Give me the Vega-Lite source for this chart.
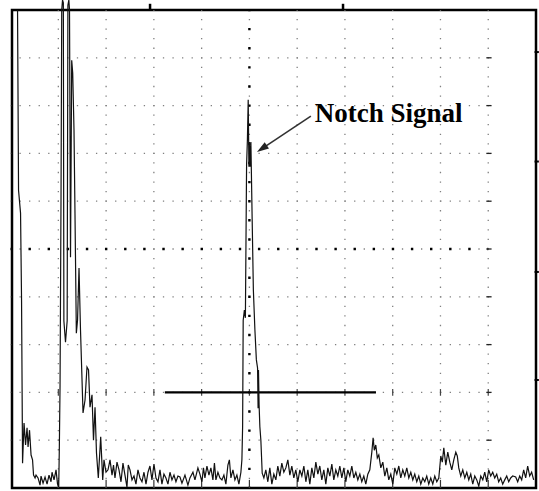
{
  "$schema": "https://vega.github.io/schema/vega-lite/v6.json",
  "width": 524,
  "height": 478,
  "autosize": {"type": "none"},
  "padding": {"left": 12, "top": 10, "right": 3, "bottom": 3},
  "background": "white",
  "config": {"view": {"stroke": "#000", "strokeWidth": 2.5}},
  "datasets": {
    "vgrid": [{"g": 10}, {"g": 20}, {"g": 30}, {"g": 40}, {"g": 50}, {"g": 60}, {"g": 70}, {"g": 80}, {"g": 90}, {"g": 100}],
    "hgrid": [{"g": 10}, {"g": 20}, {"g": 30}, {"g": 40}, {"g": 50}, {"g": 60}, {"g": 70}, {"g": 80}, {"g": 90}],
    "center": [{"c": 50}],
    "gate": [{"start": 32.3, "end": 76.5, "level": 20}],
    "label": [{"text": "Notch Signal", "x": 63.7, "y": 76.6}],
    "arrow": [{"x1": 62.87, "y1": 77.8, "x2": 52.8, "y2": 71.1}],
    "topTicks": [{"t": 29.2}, {"t": 69.6}],
    "rightTicks": [{"t": 91.2}, {"t": 68.3}, {"t": 45.2}, {"t": 22.6}],
    "signal": [
      {"t": 1.46, "a": 100.0}, {"t": 1.67, "a": 62.3}, {"t": 2.09, "a": 57.5}, {"t": 2.30, "a": 39.3},
      {"t": 2.51, "a": 5.2}, {"t": 2.82, "a": 13.6}, {"t": 3.14, "a": 9.0}, {"t": 3.45, "a": 12.6},
      {"t": 3.66, "a": 8.6}, {"t": 3.97, "a": 12.1}, {"t": 4.29, "a": 6.9}, {"t": 4.60, "a": 5.9},
      {"t": 4.81, "a": 2.7}, {"t": 5.13, "a": 2.1}, {"t": 5.33, "a": 2.7}, {"t": 5.75, "a": 2.1},
      {"t": 6.17, "a": 0.6}, {"t": 6.38, "a": 2.5}, {"t": 6.80, "a": 1.0}, {"t": 7.22, "a": 2.3},
      {"t": 7.64, "a": 0.8}, {"t": 8.05, "a": 2.7}, {"t": 8.47, "a": 1.3}, {"t": 8.68, "a": 3.3},
      {"t": 9.10, "a": 1.7}, {"t": 9.52, "a": 3.8}, {"t": 9.83, "a": 0.8}, {"t": 10.08, "a": 0.2},
      {"t": 10.21, "a": 8.4}, {"t": 10.36, "a": 21.5}, {"t": 10.56, "a": 60.2}, {"t": 10.71, "a": 100.0},
      {"t": 10.88, "a": 102.1}, {"t": 11.05, "a": 101.5}, {"t": 11.16, "a": 35.0}, {"t": 11.5, "a": 30.5},
      {"t": 11.85, "a": 35.0}, {"t": 12.0, "a": 101.0}, {"t": 12.2, "a": 102.1}, {"t": 12.34, "a": 100.0},
      {"t": 12.55, "a": 48.3},
      {"t": 12.80, "a": 89.5}, {"t": 13.01, "a": 86.8}, {"t": 13.28, "a": 74.9}, {"t": 13.49, "a": 57.1},
      {"t": 13.77, "a": 32.4}, {"t": 14.02, "a": 35.1}, {"t": 14.33, "a": 46.0}, {"t": 14.64, "a": 33.1},
      {"t": 15.17, "a": 15.7}, {"t": 15.59, "a": 18.4}, {"t": 16.00, "a": 25.3}, {"t": 16.32, "a": 24.7},
      {"t": 16.63, "a": 16.9}, {"t": 17.05, "a": 19.5}, {"t": 17.36, "a": 10.0}, {"t": 17.68, "a": 16.9},
      {"t": 17.99, "a": 7.3}, {"t": 18.37, "a": 2.1}, {"t": 18.87, "a": 10.7}, {"t": 19.29, "a": 1.7},
      {"t": 19.56, "a": 5.9}, {"t": 19.98, "a": 3.3}, {"t": 20.40, "a": 3.8}, {"t": 20.82, "a": 5.9},
      {"t": 21.24, "a": 2.7}, {"t": 21.55, "a": 4.8}, {"t": 21.86, "a": 2.1}, {"t": 22.28, "a": 5.4},
      {"t": 22.70, "a": 3.8}, {"t": 23.12, "a": 1.3}, {"t": 23.53, "a": 5.2}, {"t": 23.95, "a": 2.7},
      {"t": 24.37, "a": 0.2}, {"t": 24.64, "a": 4.8}, {"t": 25.00, "a": 3.8}, {"t": 25.42, "a": 1.7},
      {"t": 25.84, "a": 2.5}, {"t": 26.25, "a": 0.8}, {"t": 26.67, "a": 3.8}, {"t": 27.09, "a": 2.1},
      {"t": 27.51, "a": 1.3}, {"t": 27.93, "a": 3.3}, {"t": 28.35, "a": 0.8}, {"t": 28.77, "a": 3.3},
      {"t": 29.18, "a": 4.6}, {"t": 29.60, "a": 1.7}, {"t": 30.02, "a": 5.0}, {"t": 30.44, "a": 2.1},
      {"t": 30.86, "a": 1.3}, {"t": 31.28, "a": 3.8}, {"t": 31.69, "a": 0.8}, {"t": 32.11, "a": 2.9},
      {"t": 32.53, "a": 2.1}, {"t": 32.95, "a": 0.8}, {"t": 33.37, "a": 3.3}, {"t": 33.79, "a": 1.7},
      {"t": 34.21, "a": 2.7}, {"t": 34.62, "a": 1.3}, {"t": 35.04, "a": 2.5}, {"t": 35.46, "a": 2.3},
      {"t": 35.88, "a": 1.0}, {"t": 36.51, "a": 2.7}, {"t": 37.13, "a": 0.6}, {"t": 37.55, "a": 2.1},
      {"t": 38.18, "a": 3.3}, {"t": 38.60, "a": 1.7}, {"t": 39.22, "a": 4.2}, {"t": 39.64, "a": 2.9},
      {"t": 40.06, "a": 1.3}, {"t": 40.38, "a": 4.2}, {"t": 40.69, "a": 2.1}, {"t": 41.11, "a": 4.6},
      {"t": 41.53, "a": 2.7}, {"t": 41.94, "a": 4.2}, {"t": 42.36, "a": 1.7}, {"t": 42.68, "a": 5.2},
      {"t": 42.99, "a": 1.7}, {"t": 43.41, "a": 3.3}, {"t": 43.83, "a": 2.1}, {"t": 44.25, "a": 1.7},
      {"t": 44.66, "a": 2.7}, {"t": 45.08, "a": 0.8}, {"t": 45.50, "a": 4.8}, {"t": 45.81, "a": 5.9},
      {"t": 46.13, "a": 2.1}, {"t": 46.55, "a": 3.8}, {"t": 46.97, "a": 1.7}, {"t": 47.38, "a": 2.7},
      {"t": 47.80, "a": 0.8}, {"t": 48.22, "a": 3.3}, {"t": 48.43, "a": 5.9}, {"t": 48.58, "a": 12.8},
      {"t": 48.70, "a": 35.1}, {"t": 48.95, "a": 37.2}, {"t": 49.16, "a": 35.6}, {"t": 49.41, "a": 67.6},
      {"t": 49.58, "a": 72.8}, {"t": 49.75, "a": 81.2}, {"t": 49.90, "a": 67.2}, {"t": 50.00, "a": 72.4},
      {"t": 50.15, "a": 67.2}, {"t": 50.31, "a": 72.4}, {"t": 50.58, "a": 56.1}, {"t": 50.83, "a": 41.4},
      {"t": 51.15, "a": 33.1}, {"t": 51.46, "a": 26.8}, {"t": 51.71, "a": 25.1}, {"t": 51.82, "a": 16.7},
      {"t": 51.90, "a": 24.7}, {"t": 52.03, "a": 17.4}, {"t": 52.19, "a": 12.8}, {"t": 52.40, "a": 10.0},
      {"t": 52.68, "a": 3.1}, {"t": 53.03, "a": 2.1}, {"t": 53.44, "a": 3.8}, {"t": 53.86, "a": 1.3},
      {"t": 54.28, "a": 4.2}, {"t": 54.70, "a": 0.8}, {"t": 55.12, "a": 2.9}, {"t": 55.54, "a": 1.7},
      {"t": 55.95, "a": 4.6}, {"t": 56.37, "a": 2.5}, {"t": 56.79, "a": 5.2}, {"t": 57.21, "a": 3.3},
      {"t": 57.63, "a": 4.2}, {"t": 58.05, "a": 5.9}, {"t": 58.47, "a": 2.7}, {"t": 58.88, "a": 4.6},
      {"t": 59.30, "a": 2.1}, {"t": 59.72, "a": 3.8}, {"t": 60.14, "a": 1.3}, {"t": 60.56, "a": 3.8},
      {"t": 60.98, "a": 2.5}, {"t": 61.40, "a": 4.6}, {"t": 61.82, "a": 1.3}, {"t": 62.23, "a": 3.8},
      {"t": 62.65, "a": 0.8}, {"t": 63.07, "a": 4.2}, {"t": 63.49, "a": 2.1}, {"t": 63.91, "a": 5.4},
      {"t": 64.33, "a": 2.9}, {"t": 64.74, "a": 4.6}, {"t": 65.16, "a": 1.7}, {"t": 65.58, "a": 3.8},
      {"t": 66.00, "a": 0.8}, {"t": 66.42, "a": 4.2}, {"t": 66.84, "a": 2.5}, {"t": 67.26, "a": 5.0},
      {"t": 67.67, "a": 1.7}, {"t": 68.09, "a": 3.8}, {"t": 68.51, "a": 2.5}, {"t": 68.93, "a": 4.6},
      {"t": 69.35, "a": 2.1}, {"t": 69.77, "a": 4.2}, {"t": 70.18, "a": 1.3}, {"t": 70.60, "a": 3.8},
      {"t": 71.02, "a": 2.5}, {"t": 71.44, "a": 4.6}, {"t": 71.86, "a": 2.1}, {"t": 72.28, "a": 3.3},
      {"t": 72.70, "a": 1.7}, {"t": 73.12, "a": 2.9}, {"t": 73.53, "a": 1.3}, {"t": 73.95, "a": 2.5},
      {"t": 74.37, "a": 0.8}, {"t": 74.79, "a": 2.9}, {"t": 75.21, "a": 3.8}, {"t": 75.63, "a": 7.5},
      {"t": 75.90, "a": 10.5}, {"t": 76.15, "a": 7.9}, {"t": 76.46, "a": 9.0}, {"t": 76.78, "a": 6.3},
      {"t": 77.09, "a": 6.9}, {"t": 77.51, "a": 4.2}, {"t": 77.93, "a": 5.4}, {"t": 78.35, "a": 2.5},
      {"t": 78.77, "a": 4.2}, {"t": 79.18, "a": 1.7}, {"t": 79.60, "a": 2.9}, {"t": 80.02, "a": 0.8},
      {"t": 80.44, "a": 4.2}, {"t": 80.86, "a": 2.9}, {"t": 81.28, "a": 4.6}, {"t": 81.69, "a": 2.1},
      {"t": 82.11, "a": 3.8}, {"t": 82.53, "a": 2.5}, {"t": 82.95, "a": 4.2}, {"t": 83.37, "a": 2.1},
      {"t": 83.79, "a": 3.3}, {"t": 84.21, "a": 1.7}, {"t": 84.62, "a": 2.9}, {"t": 85.04, "a": 1.3},
      {"t": 85.46, "a": 2.5}, {"t": 85.88, "a": 0.8}, {"t": 86.30, "a": 2.1}, {"t": 86.72, "a": 1.3},
      {"t": 87.13, "a": 2.5}, {"t": 87.55, "a": 0.8}, {"t": 87.97, "a": 2.1}, {"t": 88.39, "a": 0.8},
      {"t": 88.81, "a": 2.5}, {"t": 89.23, "a": 1.3}, {"t": 89.65, "a": 2.1}, {"t": 90.07, "a": 6.7},
      {"t": 90.38, "a": 5.4}, {"t": 90.70, "a": 8.4}, {"t": 91.12, "a": 4.8}, {"t": 91.53, "a": 7.5},
      {"t": 91.95, "a": 5.4}, {"t": 92.37, "a": 3.8}, {"t": 92.79, "a": 5.9}, {"t": 93.21, "a": 7.5},
      {"t": 93.52, "a": 6.7}, {"t": 93.83, "a": 4.2}, {"t": 94.25, "a": 2.5}, {"t": 94.67, "a": 3.8},
      {"t": 95.09, "a": 2.1}, {"t": 95.51, "a": 3.3}, {"t": 95.93, "a": 1.7}, {"t": 96.34, "a": 2.9},
      {"t": 96.76, "a": 0.8}, {"t": 97.18, "a": 2.5}, {"t": 97.60, "a": 1.7}, {"t": 98.02, "a": 0.4},
      {"t": 98.44, "a": 2.5}, {"t": 98.86, "a": 1.7}, {"t": 99.27, "a": 3.3}, {"t": 99.69, "a": 1.3},
      {"t": 100.10, "a": 3.8}, {"t": 100.52, "a": 2.5}, {"t": 100.94, "a": 3.3}, {"t": 101.36, "a": 2.1},
      {"t": 101.78, "a": 2.9}, {"t": 102.19, "a": 1.3}, {"t": 102.61, "a": 2.1}, {"t": 103.03, "a": 0.8},
      {"t": 103.45, "a": 1.7}, {"t": 103.87, "a": 2.5}, {"t": 104.29, "a": 1.3}, {"t": 104.70, "a": 2.1},
      {"t": 105.12, "a": 2.5}, {"t": 105.75, "a": 2.3}, {"t": 106.17, "a": 1.3}, {"t": 106.59, "a": 2.5},
      {"t": 107.00, "a": 1.7}, {"t": 107.42, "a": 3.8}, {"t": 107.84, "a": 2.1}, {"t": 108.26, "a": 4.6},
      {"t": 108.68, "a": 2.5}, {"t": 109.09, "a": 3.3}, {"t": 109.51, "a": 1.7}
    ]
  },
  "layer": [
    {
      "data": {"name": "vgrid"},
      "mark": {"type": "rule", "stroke": "#808080", "strokeWidth": 1.3, "strokeDash": [1.3, 8.26], "strokeDashOffset": 0.65},
      "encoding": {
        "x": {"field": "g", "type": "quantitative", "scale": {"domain": [0.3, 110], "nice": false, "zero": false}, "axis": null},
        "y": {"datum": 0, "type": "quantitative", "scale": {"domain": [0, 100], "nice": false, "zero": false}, "axis": null},
        "y2": {"datum": 100}
      }
    },
    {
      "data": {"name": "hgrid"},
      "mark": {"type": "rule", "stroke": "#808080", "strokeWidth": 1.3, "strokeDash": [1.3, 8.26], "strokeDashOffset": 0.65},
      "encoding": {
        "y": {"field": "g", "type": "quantitative", "scale": {"domain": [0, 100], "nice": false, "zero": false}, "axis": null},
        "x": {"datum": 0, "type": "quantitative", "scale": {"domain": [0.3, 110], "nice": false, "zero": false}, "axis": null},
        "x2": {"datum": 100}
      }
    },
    {
      "data": {"name": "center"},
      "mark": {"type": "rule", "stroke": "#000", "strokeWidth": 2.4, "strokeDash": [2.4, 16.72], "strokeDashOffset": 1.2},
      "encoding": {
        "x": {"field": "c", "type": "quantitative", "scale": {"domain": [0.3, 110], "nice": false, "zero": false}, "axis": null},
        "y": {"datum": 0, "type": "quantitative", "scale": {"domain": [0, 100], "nice": false, "zero": false}, "axis": null},
        "y2": {"datum": 100}
      }
    },
    {
      "data": {"name": "center"},
      "mark": {"type": "rule", "stroke": "#000", "strokeWidth": 2.4, "strokeDash": [2.4, 16.72], "strokeDashOffset": 1.2},
      "encoding": {
        "y": {"field": "c", "type": "quantitative", "scale": {"domain": [0, 100], "nice": false, "zero": false}, "axis": null},
        "x": {"datum": 0, "type": "quantitative", "scale": {"domain": [0.3, 110], "nice": false, "zero": false}, "axis": null},
        "x2": {"datum": 100}
      }
    },
    {
      "data": {"name": "vgrid"},
      "mark": {"type": "rule", "stroke": "#333", "strokeWidth": 1.2},
      "encoding": {
        "x": {"field": "g", "type": "quantitative", "scale": {"domain": [0.3, 110], "nice": false, "zero": false}, "axis": null},
        "y": {"datum": 0, "type": "quantitative", "scale": {"domain": [0, 100], "nice": false, "zero": false}, "axis": null},
        "y2": {"datum": 1.7}
      }
    },
    {
      "data": {"name": "vgrid"},
      "mark": {"type": "rule", "stroke": "#444", "strokeWidth": 1.2},
      "encoding": {
        "x": {"field": "g", "type": "quantitative", "scale": {"domain": [0.3, 110], "nice": false, "zero": false}, "axis": null},
        "y": {"datum": 19.3, "type": "quantitative", "scale": {"domain": [0, 100], "nice": false, "zero": false}, "axis": null},
        "y2": {"datum": 20.7}
      }
    },
    {
      "data": {"name": "hgrid"},
      "mark": {"type": "rule", "stroke": "#222", "strokeWidth": 1.3},
      "encoding": {
        "y": {"field": "g", "type": "quantitative", "scale": {"domain": [0, 100], "nice": false, "zero": false}, "axis": null},
        "x": {"datum": 99.6, "type": "quantitative", "scale": {"domain": [0.3, 110], "nice": false, "zero": false}, "axis": null},
        "x2": {"datum": 100.7}
      }
    },
    {
      "data": {"name": "gate"},
      "mark": {"type": "rule", "stroke": "#000", "strokeWidth": 2.2},
      "encoding": {
        "x": {"field": "start", "type": "quantitative", "scale": {"domain": [0.3, 110], "nice": false, "zero": false}, "axis": null},
        "x2": {"field": "end"},
        "y": {"field": "level", "type": "quantitative", "scale": {"domain": [0, 100], "nice": false, "zero": false}, "axis": null}
      }
    },
    {
      "data": {"name": "signal"},
      "mark": {"type": "line", "stroke": "#111", "strokeWidth": 1.2, "interpolate": "linear"},
      "encoding": {
        "x": {"field": "t", "type": "quantitative", "scale": {"domain": [0.3, 110], "nice": false, "zero": false},
          "axis": {"orient": "bottom", "values": [1,2,3,4,5,6,7,8,9,10,11,12,13,14,15,16,17,18,19,20,21,22,23,24,25,26,27,28,29,30,31,32,33,34,35,36,37,38,39,40,41,42,43,44,45,46,47,48,49,50,51,52,53,54,55,56,57,58,59,60,61,62,63,64,65,66,67,68,69,70,71,72,73,74,75,76,77,78,79,80,81,82,83,84,85,86,87,88,89,90,91,92,93,94,95,96,97,98,99,100,101,102,103,104,105,106,107,108,109],
            "ticks": true, "tickSize": 3, "tickColor": "#000", "tickWidth": 1, "labels": false, "domain": false, "grid": false, "title": null}},
        "y": {"field": "a", "type": "quantitative", "scale": {"domain": [0, 100], "nice": false, "zero": false}, "axis": null}
      }
    },
    {
      "data": {"name": "arrow"},
      "mark": {"type": "rule", "stroke": "#333", "strokeWidth": 1.6},
      "encoding": {
        "x": {"field": "x1", "type": "quantitative", "scale": {"domain": [0.3, 110], "nice": false, "zero": false}, "axis": null},
        "y": {"field": "y1", "type": "quantitative", "scale": {"domain": [0, 100], "nice": false, "zero": false}, "axis": null},
        "x2": {"field": "x2"},
        "y2": {"field": "y2"}
      }
    },
    {
      "data": {"name": "arrow"},
      "mark": {"type": "point", "shape": "M0,-1L0.55,0.7L-0.55,0.7Z", "filled": true, "fill": "#222", "stroke": null, "size": 196, "angle": 236, "opacity": 1},
      "encoding": {
        "x": {"field": "x2", "type": "quantitative", "scale": {"domain": [0.3, 110], "nice": false, "zero": false}, "axis": null},
        "y": {"field": "y2", "type": "quantitative", "scale": {"domain": [0, 100], "nice": false, "zero": false}, "axis": null}
      }
    },
    {
      "data": {"name": "label"},
      "mark": {"type": "text", "font": "Liberation Serif", "fontWeight": "bold", "fontSize": 27, "align": "left", "baseline": "alphabetic", "color": "#000"},
      "encoding": {
        "x": {"field": "x", "type": "quantitative", "scale": {"domain": [0.3, 110], "nice": false, "zero": false}, "axis": null},
        "y": {"field": "y", "type": "quantitative", "scale": {"domain": [0, 100], "nice": false, "zero": false}, "axis": null},
        "text": {"field": "text"}
      }
    },
    {
      "data": {"name": "topTicks"},
      "mark": {"type": "rule", "stroke": "#000", "strokeWidth": 2.5},
      "encoding": {
        "x": {"field": "t", "type": "quantitative", "scale": {"domain": [0.3, 110], "nice": false, "zero": false}, "axis": null},
        "y": {"datum": 100, "type": "quantitative", "scale": {"domain": [0, 100], "nice": false, "zero": false}, "axis": null},
        "y2": {"datum": 101.3}
      }
    },
    {
      "data": {"name": "rightTicks"},
      "mark": {"type": "rule", "stroke": "#000", "strokeWidth": 2},
      "encoding": {
        "y": {"field": "t", "type": "quantitative", "scale": {"domain": [0, 100], "nice": false, "zero": false}, "axis": null},
        "x": {"datum": 109.7, "type": "quantitative", "scale": {"domain": [0.3, 110], "nice": false, "zero": false}, "axis": null},
        "x2": {"datum": 110.6}
      }
    }
  ]
}
